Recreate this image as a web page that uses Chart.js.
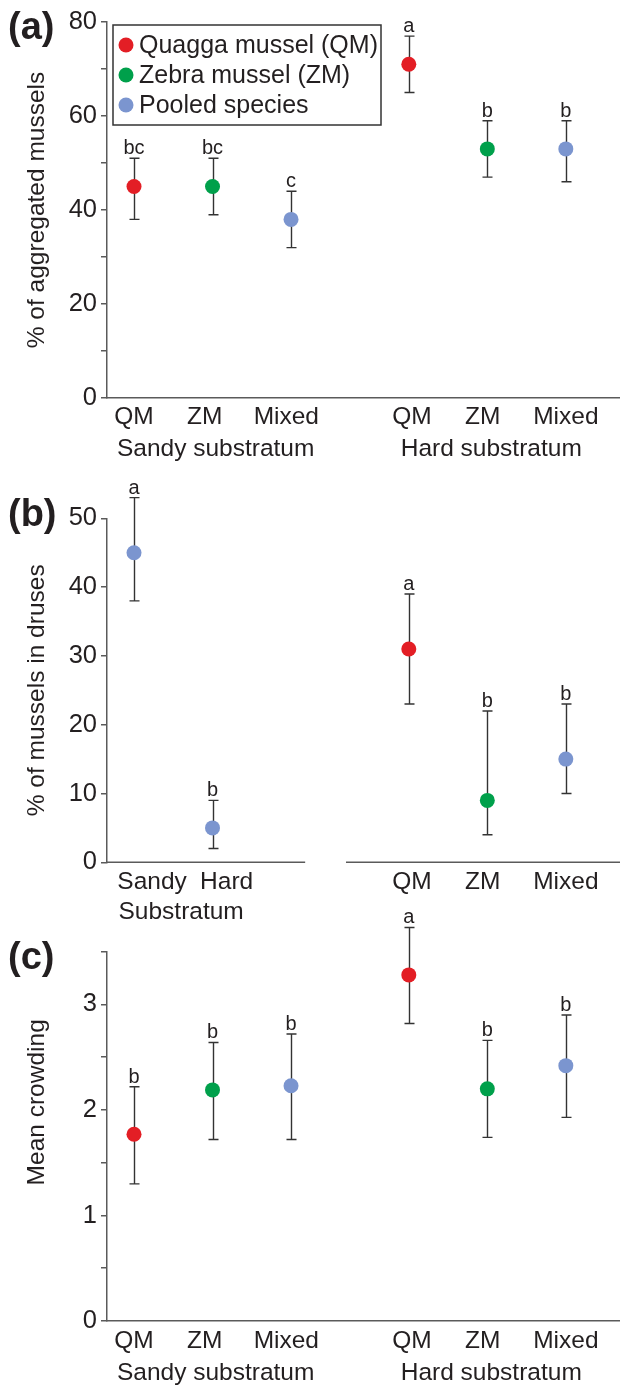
<!DOCTYPE html>
<html><head><meta charset="utf-8">
<script src="https://cdn.jsdelivr.net/npm/chart.js@4.4.1/dist/chart.umd.min.js"></script>
<style>
html,body{margin:0;padding:0;background:#fff;}
#wrap{position:relative;width:620px;height:1389px;overflow:hidden;background:#fff;}
canvas{position:absolute;left:0;}
</style></head><body>
<div id="wrap">
<canvas id="ca" width="620" height="470" style="top:0px"></canvas>
<canvas id="cb" width="620" height="460" style="top:470px"></canvas>
<canvas id="cc" width="620" height="489" style="top:900px"></canvas>
</div>
<script>
// ---------- DATA ----------
const seriesNames = ['Quagga mussel (QM)', 'Zebra mussel (ZM)', 'Pooled species'];
const seriesColors = ['#e31e25', '#00a04b', '#7b95cf'];

// Panel (a): % of aggregated mussels
const aPos = [1, 2, 3, 4.5, 5.5, 6.5];
const aCats = ['QM', 'ZM', 'Mixed', 'QM', 'ZM', 'Mixed'];
const aGroups = ['Sandy substratum', 'Hard substratum'];
const aGroupPos = [2, 5.5];
const aSeries = [0, 1, 2, 0, 1, 2];
const aMean = [45, 45, 38, 71, 53, 53];
const aLow = [38, 39, 32, 65, 47, 46];
const aHigh = [51, 51, 44, 77, 59, 59];
const aLetters = ['bc', 'bc', 'c', 'a', 'b', 'b'];
const aYLabels = [0, 20, 40, 60, 80];

// Panel (b): % of mussels in druses
const bPos = [1, 2, 4.5, 5.5, 6.5];
const bCats = ['Sandy', 'Hard', 'QM', 'ZM', 'Mixed'];
const bGroups = ['Substratum'];
const bGroupPos = [1.5];
const bSeries = [2, 2, 0, 1, 2];
const bMean = [45, 5, 31, 9, 15];
const bLow = [38, 2, 23, 4, 10];
const bHigh = [53, 9, 39, 22, 23];
const bLetters = ['a', 'b', 'a', 'b', 'b'];
const bYLabels = [0, 10, 20, 30, 40, 50];

// Panel (c): Mean crowding
const cPos = [1, 2, 3, 4.5, 5.5, 6.5];
const cCats = ['QM', 'ZM', 'Mixed', 'QM', 'ZM', 'Mixed'];
const cGroups = ['Sandy substratum', 'Hard substratum'];
const cGroupPos = [2, 5.5];
const cSeries = [0, 1, 2, 0, 1, 2];
const cMean = [1.77, 2.19, 2.23, 3.28, 2.20, 2.42];
const cLow = [1.30, 1.72, 1.72, 2.82, 1.74, 1.93];
const cHigh = [2.22, 2.64, 2.72, 3.73, 2.66, 2.90];
const cLetters = ['b', 'b', 'b', 'a', 'b', 'b'];
const cYLabels = [0, 1, 2, 3];

// ---------- STYLE ----------
const FONT = "'Liberation Sans', Arial, Helvetica, sans-serif";
const TXT = '#231f20';
const AXIS = '#5a5a5a';
const X_MIN = 0.656, X_MAX = 7.19;
const CAT_NUDGE = [0, -0.1, -0.06, 0.04, -0.06, 0];   // label fine-tuning (style)
const GROUP_NUDGE = [0.04, 0.05];
Chart.defaults.font.family = FONT;
Chart.defaults.color = TXT;

function buildDatasets(o) {
  return seriesNames.map((name, s) => {
    const idx = o.pos.map((p, i) => i).filter(i => o.series[i] === s);
    return {
      label: name,
      data: idx.map(i => ({x: o.pos[i], y: o.mean[i]})),
      errLow: idx.map(i => o.low[i]),
      errHigh: idx.map(i => o.high[i]),
      letters: idx.map(i => o.letters[i]),
      backgroundColor: seriesColors[s],
      borderColor: seriesColors[s],
      borderWidth: 0,
      pointRadius: 7.5,
      pointHoverRadius: 7.5,
      showLine: false,
      clip: false
    };
  }).filter(d => d.data.length);
}

const errorBars = {
  id: 'errorBars',
  beforeDatasetsDraw(chart) {
    const {ctx, scales: {x, y}} = chart;
    ctx.save();
    ctx.strokeStyle = '#333';
    ctx.lineWidth = 1.4;
    chart.data.datasets.forEach(ds => {
      ds.data.forEach((pt, i) => {
        const px = Math.round(x.getPixelForValue(pt.x)) + 0.5;
        const yl = y.getPixelForValue(ds.errLow[i]);
        const yh = y.getPixelForValue(ds.errHigh[i]);
        ctx.beginPath();
        ctx.moveTo(px, yl); ctx.lineTo(px, yh);
        ctx.moveTo(px - 5, yl); ctx.lineTo(px + 5, yl);
        ctx.moveTo(px - 5, yh); ctx.lineTo(px + 5, yh);
        ctx.stroke();
      });
    });
    ctx.restore();
  },
  afterDatasetsDraw(chart) {
    const {ctx, scales: {x, y}} = chart;
    ctx.save();
    ctx.fillStyle = TXT;
    ctx.font = '20px ' + FONT;
    ctx.textAlign = 'center';
    ctx.textBaseline = 'alphabetic';
    chart.data.datasets.forEach(ds => {
      ds.data.forEach((pt, i) => {
        const px = x.getPixelForValue(pt.x);
        const yh = y.getPixelForValue(ds.errHigh[i]);
        ctx.fillText(ds.letters[i], px, yh - 4);
      });
    });
    ctx.restore();
  }
};

const panelLabel = {
  id: 'panelLabel',
  afterDraw(chart, args, opts) {
    const ctx = chart.ctx;
    ctx.save();
    ctx.fillStyle = TXT;
    ctx.font = 'bold 38px ' + FONT;
    ctx.textAlign = 'left';
    ctx.textBaseline = 'middle';
    ctx.fillText(opts.text, 8, opts.y);
    ctx.restore();
  }
};

const boxLegend = {
  id: 'boxLegend',
  afterDraw(chart, args, opts) {
    const {ctx, chartArea} = chart;
    const L = chartArea.left + 6, T = chartArea.top + 3, W = 268, H = 100;
    ctx.save();
    ctx.fillStyle = '#fff';
    ctx.fillRect(L, T, W, H);
    ctx.strokeStyle = '#333';
    ctx.lineWidth = 1.5;
    ctx.strokeRect(L, T, W, H);
    ctx.font = '25px ' + FONT;
    ctx.textAlign = 'left';
    ctx.textBaseline = 'middle';
    chart.data.datasets.forEach((ds, i) => {
      const cy = T + 20 + i * 30;
      ctx.fillStyle = ds.backgroundColor;
      ctx.beginPath();
      ctx.arc(L + 13, cy, 7.5, 0, Math.PI * 2);
      ctx.fill();
      ctx.fillStyle = TXT;
      ctx.fillText(ds.label, L + 26, cy + 1);
    });
    ctx.restore();
  }
};

const brokenAxis = {
  id: 'brokenAxis',
  afterDraw(chart, args, opts) {
    const {ctx, chartArea, scales: {x}} = chart;
    ctx.save();
    ctx.strokeStyle = AXIS;
    ctx.lineWidth = 1.5;
    const yy = chartArea.bottom;
    opts.segments.forEach(([a, b]) => {
      ctx.beginPath();
      ctx.moveTo(x.getPixelForValue(a), yy);
      ctx.lineTo(x.getPixelForValue(b), yy);
      ctx.stroke();
    });
    ctx.restore();
  }
};

function makeChart(id, o) {
  return new Chart(document.getElementById(id), {
    type: 'scatter',
    data: {datasets: buildDatasets(o)},
    options: {
      responsive: false,
      animation: false,
      devicePixelRatio: 1,
      events: [],
      layout: {autoPadding: false, padding: {top: o.padTop, left: 0, right: 0, bottom: 0}},
      plugins: {
        legend: {display: false},
        tooltip: {enabled: false},
        panelLabel: {text: o.panel, y: o.panelY},
        boxLegend: o.legend ? {} : false,
        brokenAxis: o.segments ? {segments: o.segments} : false
      },
      scales: {
        x: {
          type: 'linear', position: 'bottom', weight: 0, min: X_MIN, max: X_MAX,
          grid: {display: false, drawTicks: false},
          border: {display: !o.segments, color: AXIS, width: 1.5},
          ticks: {autoSkip: false, maxRotation: 0, minRotation: 0, padding: o.xPad,
                  font: {size: 24.5}, color: TXT, callback: (v, i) => o.cats[i]},
          afterBuildTicks: s => { s.ticks = o.pos.map((v, i) => ({value: v + (o.catShift ? o.catShift[i] : 0)})); },
          afterFit: s => { s.height = o.xH; }
        },
        x2: {
          type: 'linear', position: 'bottom', weight: 1, min: X_MIN, max: X_MAX,
          grid: {display: false, drawTicks: false},
          border: {display: false},
          ticks: {autoSkip: false, maxRotation: 0, minRotation: 0, padding: o.x2Pad,
                  font: {size: 24.5}, color: TXT, callback: (v, i) => o.groups[i]},
          afterBuildTicks: s => { s.ticks = o.groupPos.map((v, i) => ({value: v + (o.groupShift ? o.groupShift[i] : 0)})); },
          afterFit: s => { s.height = o.x2H; }
        },
        y: {
          type: 'linear', position: 'left', min: o.yMin, max: o.yMax,
          grid: {display: true, drawOnChartArea: false, drawTicks: true, tickLength: 6,
                 color: AXIS, lineWidth: 1.5},
          border: {display: true, color: AXIS, width: 1.5},
          ticks: {stepSize: o.yStep, autoSkip: false, padding: 4, font: {size: 25.5}, color: TXT,
                  callback: v => o.yLabels.includes(v) ? String(v) : ''},
          title: {display: true, text: o.yTitle, font: {size: 24.5}, color: TXT,
                  padding: {top: 23, bottom: 0}},
          afterFit: s => { s.width = 107; }
        }
      }
    },
    plugins: [errorBars, panelLabel, boxLegend, brokenAxis]
  });
}

makeChart('ca', {
  pos: aPos, cats: aCats, groups: aGroups, groupPos: aGroupPos, series: aSeries,
  mean: aMean, low: aLow, high: aHigh, letters: aLetters, yLabels: aYLabels,
  yMin: 0, yMax: 80, yStep: 10, yTitle: '% of aggregated mussels',
  panel: '(a)', panelY: 29, legend: true,
  catShift: CAT_NUDGE, groupShift: GROUP_NUDGE,
  padTop: 22, xH: 34, x2H: 38, xPad: 5, x2Pad: 3
});

makeChart('cb', {
  pos: bPos, cats: bCats, groups: bGroups, groupPos: bGroupPos, series: bSeries,
  mean: bMean, low: bLow, high: bHigh, letters: bLetters, yLabels: bYLabels,
  yMin: 0, yMax: 50, yStep: 10, yTitle: '% of mussels in druses',
  panel: '(b)', panelY: 46,
  catShift: [0.23, 0.18, 0.04, -0.06, 0], groupShift: [0.1],
  segments: [[X_MIN, 3.18], [3.70, X_MAX]],
  padTop: 48.3, xH: 34, x2H: 33.7, xPad: 5, x2Pad: 1
});

makeChart('cc', {
  pos: cPos, cats: cCats, groups: cGroups, groupPos: cGroupPos, series: cSeries,
  mean: cMean, low: cLow, high: cHigh, letters: cLetters, yLabels: cYLabels,
  yMin: 0, yMax: 3.5, yStep: 0.5, yTitle: '\u00a0'.repeat(10) + 'Mean crowding',
  panel: '(c)', panelY: 59,
  catShift: CAT_NUDGE, groupShift: GROUP_NUDGE,
  padTop: 51.7, xH: 34, x2H: 34, xPad: 6, x2Pad: 4
});
</script>
</body></html>
